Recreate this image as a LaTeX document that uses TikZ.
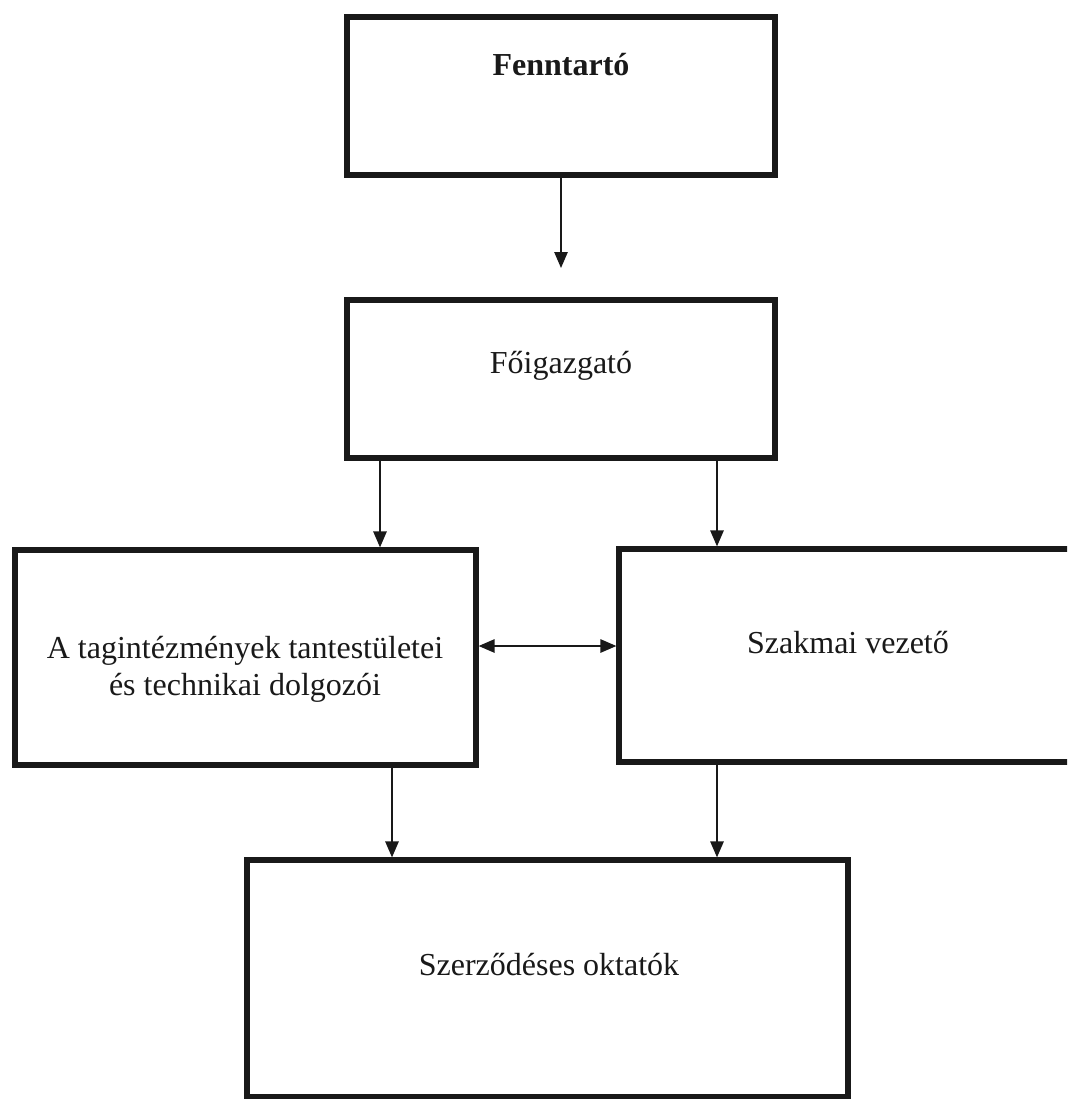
\documentclass[tikz,border=0pt]{standalone}
\usepackage{fontspec}
\setmainfont{Liberation Serif}
\usetikzlibrary{arrows.meta}
\begin{document}
\begin{tikzpicture}[x=0.75pt,y=-0.75pt,
  box/.style={draw=black!90, line width=3.9pt, rectangle, inner sep=0pt},
  lbl/.style={anchor=base, inner sep=0pt, font=\fontsize{24}{27.75}\selectfont, text=black!90},
  arr/.style={draw=black!90, line width=1.3pt, -{Triangle[length=12pt,width=10pt]}},
  darr/.style={draw=black!90, line width=1.3pt, {Triangle[length=12pt,width=10pt]}-{Triangle[length=12pt,width=10pt]}}]
\useasboundingbox (0,0) rectangle (1067,1099);
\clip (0,0) rectangle (1067,1099);
\fill[white] (0,0) rectangle (1067,1099);
% boxes
\node[box, minimum width=321pt, minimum height=118.5pt] (b1) at (561,96) {};
\node[box, minimum width=321pt, minimum height=118.5pt] (b2) at (561,379) {};
\node[box, minimum width=345.75pt, minimum height=161.25pt] (b3) at (245.5,657.5) {};
\node[box, minimum width=353.25pt, minimum height=159.75pt] (b4) at (854.5,655.5) {};
\node[box, minimum width=450.75pt, minimum height=177.75pt] (b5) at (547.5,978.5) {};
% texts
\node[lbl, font=\fontsize{24}{27.75}\selectfont\bfseries] (t1) at (561,76) {Fenntartó};
\node[lbl] (t2) at (561,373) {Főigazgató};
\node[lbl, align=center] (t3) at (245,695) {A tagintézmények tantestületei\\és technikai dolgozói};
\node[lbl] (t4) at (848,653) {Szakmai vezető};
\node[lbl] (t5) at (549,975) {Szerződéses oktatók};
% helper coordinates
\coordinate (e1) at (561,268);
\coordinate (ca) at (380,0);
\coordinate (cb) at (717,0);
\coordinate (cc) at (392,0);
\coordinate (cd) at (0,646);
% connectors
\draw[arr] (b1.south) -- (e1);
\draw[arr] (b2.south -| ca) -- (b3.north -| ca);
\draw[arr] (b2.south -| cb) -- (b4.north -| cb);
\draw[darr] (b3.east |- cd) -- (b4.west |- cd);
\draw[arr] (b3.south -| cc) -- (b5.north -| cc);
\draw[arr] (b4.south -| cb) -- (b5.north -| cb);
\end{tikzpicture}
\end{document}
